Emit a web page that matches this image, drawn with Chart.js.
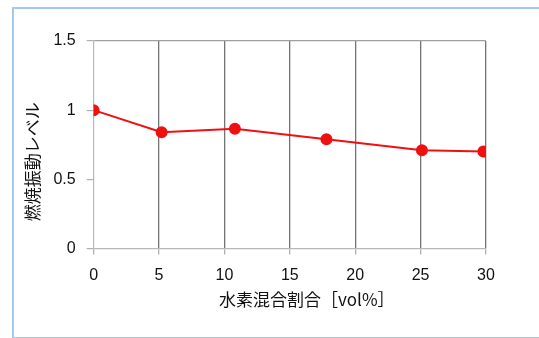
<!DOCTYPE html>
<html><head><meta charset="utf-8">
<script src="https://cdn.jsdelivr.net/npm/chart.js@4/dist/chart.umd.min.js"></script>
<style>
html,body{margin:0;padding:0;background:#fff;}
#frame{position:absolute;left:12px;top:7px;width:540px;height:328px;border:2px solid #a3c8f2;border-right:none;}
#wrap{position:absolute;left:0;top:0;width:539px;height:338px;}
</style></head>
<body>
<div id="frame"></div>
<div id="wrap"><canvas id="c" width="539" height="338"></canvas></div>
<script>
const hydrogenRatio = [0, 5.2, 10.8, 17.8, 25.1, 29.8];
const vibrationLevel = [1.0, 0.84, 0.865, 0.79, 0.71, 0.70];
const xTitle = '　　水素混合割合［vol%］';
const yTitle = '燃焼振動レベル　　';

const points = hydrogenRatio.map((x, i) => ({x: x, y: vibrationLevel[i]}));
const fontFam = "'Liberation Sans', Arial, 'Noto Sans CJK JP', sans-serif";
const cjkFam = "'Noto Sans CJK JP', 'Liberation Sans', sans-serif";

new Chart(document.getElementById('c'), {
  type: 'scatter',
  data: {
    datasets: [{
      data: points,
      showLine: true,
      borderColor: '#f01010',
      backgroundColor: '#f01010',
      borderWidth: 2,
      pointRadius: 5,
      pointHoverRadius: 5
    }]
  },
  options: {
    responsive: false,
    animation: false,
    devicePixelRatio: 1,
    layout: {padding: {left: 20, right: 53, top: 41, bottom: 28}},
    plugins: {legend: {display: false}, tooltip: {enabled: false}},
    scales: {
      x: {
        type: 'linear', min: 0, max: 30,
        ticks: {stepSize: 5, color: '#111', font: {family: fontFam, size: 16}, padding: 12,
                callback: v => String(v)},
        grid: {
          color: c => (c.tick && c.tick.value === 0) ? 'rgba(0,0,0,0)' : '#747474',
          tickColor: '#b0b0b0', tickLength: 6, lineWidth: 1.3
        },
        border: {color: '#b8b8b8', width: 1.2},
        title: {display: true, text: xTitle, color: '#111', font: {family: cjkFam, size: 17}, padding: {top: -8, bottom: 0}}
      },
      y: {
        min: 0, max: 1.5,
        ticks: {stepSize: 0.5, color: '#111', font: {family: fontFam, size: 16}, padding: 11,
                callback: v => String(v)},
        grid: {
          color: c => (c.tick && c.tick.value === 1.5) ? '#a0a0a0' : 'rgba(0,0,0,0)',
          tickColor: '#b0b0b0', tickLength: 7, lineWidth: 1.2
        },
        border: {color: '#b8b8b8', width: 1.2},
        title: {display: true, text: yTitle, color: '#111', font: {family: cjkFam, size: 17}, padding: {top: 2, bottom: 0}}
      }
    }
  }
});
</script>
</body></html>
